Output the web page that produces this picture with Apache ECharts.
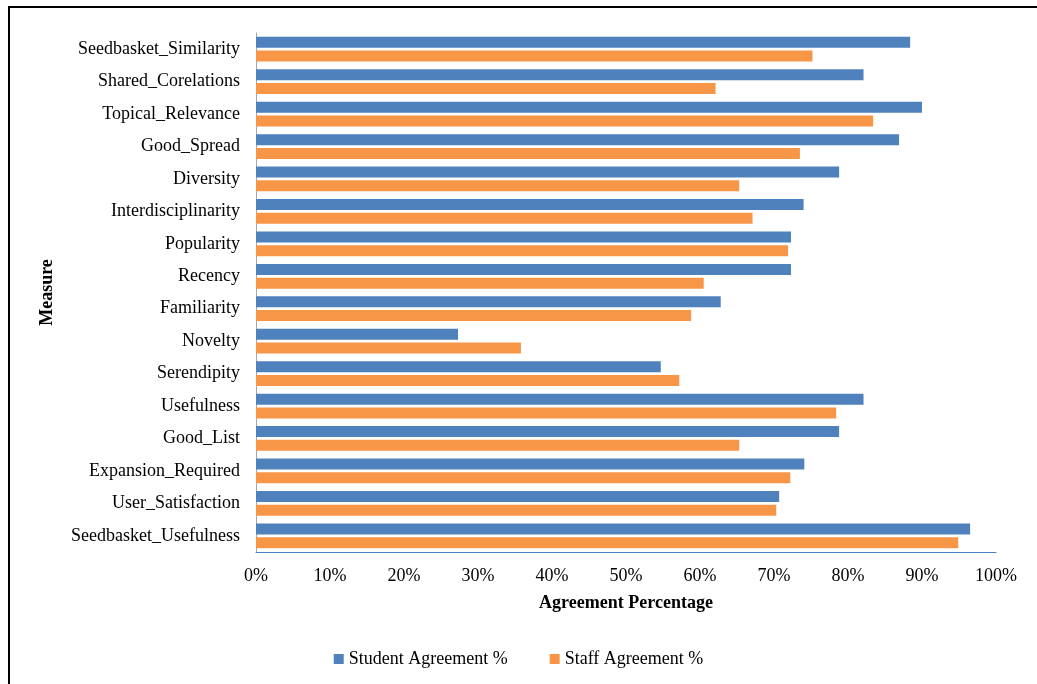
<!DOCTYPE html>
<html>
<head>
<meta charset="utf-8">
<title>Agreement Percentage</title>
<script src="https://cdn.jsdelivr.net/npm/echarts@6/dist/echarts.min.js"></script>
<style>
  html, body { margin: 0; padding: 0; background: #fff; }
  #chart { width: 1037px; height: 684px; }
</style>
</head>
<body>
<div id="chart"></div>
<script>
// measures, top to bottom
const measures = [
  'Seedbasket_Similarity', 'Shared_Corelations', 'Topical_Relevance', 'Good_Spread',
  'Diversity', 'Interdisciplinarity', 'Popularity', 'Recency', 'Familiarity',
  'Novelty', 'Serendipity', 'Usefulness', 'Good_List', 'Expansion_Required',
  'User_Satisfaction', 'Seedbasket_Usefulness'
];
const studentPct = [88.4, 82.1, 90.0, 86.9, 78.8, 74.0, 72.3, 72.3, 62.8, 27.3, 54.7, 82.1, 78.8, 74.1, 70.7, 96.5];
const staffPct = [75.2, 62.1, 83.4, 73.5, 65.3, 67.1, 71.9, 60.5, 58.8, 35.8, 57.2, 78.4, 65.3, 72.2, 70.3, 94.9];

const serif = '"Liberation Serif", "Times New Roman", serif';

const myChart = echarts.init(document.getElementById('chart'));

const option = {
  animation: false,
  textStyle: { fontFamily: serif, color: '#000' },
  grid: { left: 256, right: 41, top: 33, bottom: 132 },
  // outer frame of the figure
  graphic: [{
    type: 'rect',
    shape: { x: 9, y: 7, width: 1060, height: 720 },
    style: { fill: 'none', stroke: '#000', lineWidth: 2 },
    silent: true
  }],
  legend: {
    top: 645,
    left: 'center',
    itemWidth: 10,
    itemHeight: 10,
    itemGap: 42,
    icon: 'rect',
    textStyle: { fontFamily: serif, fontSize: 18, color: '#000' },
    data: ['Student Agreement %', 'Staff Agreement %']
  },
  xAxis: {
    type: 'value',
    min: 0,
    max: 100,
    interval: 10,
    name: 'Agreement Percentage',
    nameLocation: 'middle',
    nameGap: 42,
    nameTextStyle: { fontFamily: serif, fontSize: 18, fontWeight: 'bold', color: '#000' },
    axisLine: { show: true, lineStyle: { color: '#4f81bd', width: 1 } },
    axisTick: { show: false },
    splitLine: { show: false },
    axisLabel: {
      formatter: '{value}%',
      fontFamily: serif,
      fontSize: 18,
      color: '#000',
      margin: 15
    }
  },
  yAxis: {
    type: 'category',
    inverse: true,
    data: measures,
    name: 'Measure',
    nameLocation: 'middle',
    nameGap: 200,
    nameRotate: 90,
    nameTextStyle: { fontFamily: serif, fontSize: 18, fontWeight: 'bold', color: '#000' },
    axisLine: { show: true, lineStyle: { color: '#a6a6a6', width: 1 } },
    axisTick: { show: false },
    axisLabel: {
      fontFamily: serif,
      fontSize: 18,
      color: '#000',
      margin: 16
    }
  },
  series: [
    {
      name: 'Student Agreement %',
      type: 'bar',
      data: studentPct,
      barWidth: 11,
      barGap: '25%',
      itemStyle: { color: '#4f81bd' }
    },
    {
      name: 'Staff Agreement %',
      type: 'bar',
      data: staffPct,
      barWidth: 11,
      barGap: '25%',
      itemStyle: { color: '#f79646' }
    }
  ]
};

myChart.setOption(option);
</script>
</body>
</html>
